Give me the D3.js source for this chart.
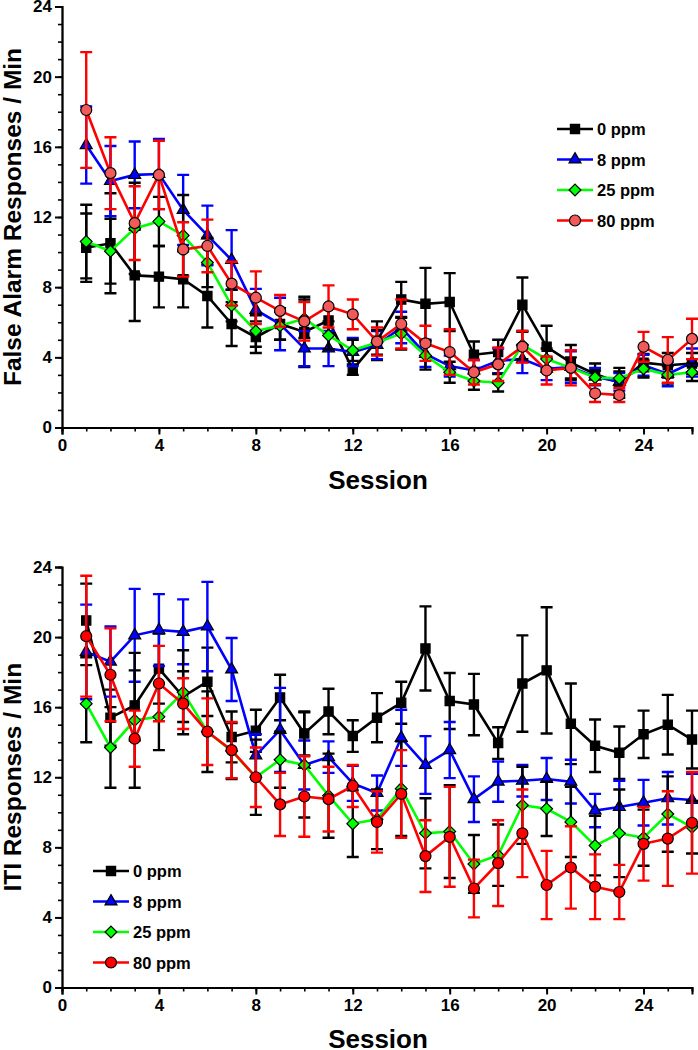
<!DOCTYPE html>
<html>
<head>
<meta charset="utf-8">
<script src="https://cdn.jsdelivr.net/npm/d3@7"></script>
<style>
  body { margin: 0; background: #fff; }
  svg { display: block; font-family: "Liberation Sans", Arial, sans-serif; }
</style>
</head>
<body>
<svg width="698" height="1050"></svg>
<script>
const sessions = d3.range(1, 27);
const groups = ["0 ppm", "8 ppm", "25 ppm", "80 ppm"];
const yTicks = [0, 4, 8, 12, 16, 20, 24];
const xTicks = [0, 4, 8, 12, 16, 20, 24];

// False alarm responses / min (means and SEM)
const fa0 = [10.25,10.5,8.67,8.6,8.45,7.5,5.9,5.15,5.9,5.45,6.1,3.3,4.95,7.3,7.05,7.15,4.15,4.3,7.0,4.6,3.7,3.05,2.55,3.7,3.55,3.65];
const fa0err = [1.95,2.85,2.6,1.75,1.6,1.8,1.25,0.9,0.9,2.0,0.7,0.3,1.1,1.0,2.05,1.65,0.75,0.7,1.55,1.2,1.0,0.6,0.85,0.5,0.7,0.6];
const fa8 = [16.1,14.05,14.4,14.45,12.4,10.95,9.55,6.7,5.9,4.5,4.5,4.3,4.7,5.7,4.2,3.5,3.25,3.8,3.9,3.35,3.45,2.9,2.6,3.55,3.05,3.7];
const fa8err = [2.2,2.0,1.9,2.0,2.0,1.7,1.7,1.2,1.5,1.0,1.0,0.8,0.8,0.9,0.75,0.6,0.6,0.7,0.8,0.65,0.9,0.5,0.5,0.6,0.7,0.8];
const fa25 = [10.6,10.05,11.35,11.75,10.95,9.4,6.95,5.5,5.8,6.2,5.25,4.4,4.85,5.35,4.1,3.15,2.65,2.55,4.7,3.9,3.4,2.85,2.8,3.35,3.0,3.15];
const fa25err = [2.1,1.85,2.6,1.4,2.3,1.4,0.9,0.9,0.8,1.1,0.8,0.6,0.7,0.9,0.8,0.6,0.5,0.5,0.8,0.6,0.6,0.4,0.4,0.5,0.5,0.5];
const fa80 = [18.1,14.5,11.65,14.4,10.15,10.35,8.2,7.4,6.65,6.05,6.9,6.45,4.9,5.9,4.8,4.3,3.15,3.6,4.6,3.25,3.4,1.95,1.85,4.6,3.85,5.05];
const fa80err = [3.3,2.05,2.1,1.95,1.55,1.5,1.25,1.5,0.9,1.1,1.2,0.85,0.8,1.4,1.0,1.3,0.7,0.95,0.9,0.8,1.0,0.5,0.4,0.85,1.3,1.15];

// ITI responses / min
const iti0 = [20.95,15.4,16.1,18.2,16.6,17.45,14.3,14.65,16.55,14.5,15.75,14.35,15.4,16.25,19.35,16.35,16.15,13.95,17.35,18.1,15.05,13.8,13.4,14.45,15.0,14.15];
const iti0err = [2.1,1.6,2.0,2.0,1.45,1.95,1.45,1.2,1.3,1.25,1.3,0.9,1.4,1.2,2.4,1.6,1.75,0.9,2.75,3.6,2.3,1.5,1.5,1.35,1.7,1.65];
const iti8 = [19.15,18.6,20.1,20.4,20.3,20.6,18.15,13.25,14.7,12.7,13.15,11.65,11.1,14.25,12.7,13.55,10.75,11.75,11.8,11.9,11.75,10.1,10.3,10.55,10.8,10.7];
const iti8err = [2.7,2.0,2.65,2.05,1.85,2.55,1.8,1.2,2.4,1.4,0.9,1.0,1.0,1.6,1.65,1.6,1.3,1.15,0.9,1.2,1.25,0.95,1.5,1.3,1.5,1.5];
const iti25 = [16.2,13.7,15.25,15.45,16.85,14.6,13.5,12.0,13.0,12.7,10.95,9.35,9.6,11.35,8.8,8.9,7.05,7.55,10.4,10.2,9.45,8.1,8.8,8.55,9.9,9.15];
const iti25err = [2.2,2.3,3.85,1.9,2.4,2.3,1.6,2.15,1.6,3.0,2.4,1.9,1.7,2.7,2.0,2.65,1.65,1.75,2.2,1.55,2.0,1.7,2.5,1.6,2.15,1.5];
const iti80 = [20.05,17.85,14.2,17.35,16.2,14.6,13.55,12.0,10.45,10.9,10.75,11.5,9.45,11.05,7.5,8.6,5.65,7.1,8.8,5.85,6.85,5.75,5.45,8.2,8.5,9.4];
const iti80err = [3.45,2.65,1.6,2.15,1.45,1.9,1.6,1.7,1.8,2.3,1.85,1.2,1.75,2.5,2.05,2.85,1.65,2.45,2.5,1.95,2.35,1.85,1.55,2.1,2.7,2.9];

const svg = d3.select("svg");

const diamond = {
  draw(ctx, size) {
    const r = Math.sqrt(size / 2);
    ctx.moveTo(0, -r); ctx.lineTo(r, 0); ctx.lineTo(0, r); ctx.lineTo(-r, 0); ctx.closePath();
  }
};

const x = d3.scaleLinear().domain([0, 26]).range([62, 692]);

function drawPanel(cfg) {
  const y = d3.scaleLinear().domain([0, 24]).range([cfg.y0, cfg.y24]);
  const g = svg.append("g");

  const series = [
    { name: groups[0], vals: cfg.data[0], err: cfg.errs[0], line: "#000", fill: "#000", bar: "#000", sym: d3.symbolSquare, size: 85 },
    { name: groups[1], vals: cfg.data[1], err: cfg.errs[1], line: "#0000ff", fill: "#0000ff", bar: "#0000ff", sym: d3.symbolTriangle, size: 62 },
    { name: groups[2], vals: cfg.data[2], err: cfg.errs[2], line: "#00ff00", fill: "#00ff00", bar: "#000", sym: diamond, size: 70 },
    { name: groups[3], vals: cfg.data[3], err: cfg.errs[3], line: "#ff0000", fill: cfg.redFill, bar: "#ff0000", sym: d3.symbolCircle, size: 95 }
  ];

  // minor ticks
  g.append("g")
    .attr("transform", `translate(0,${cfg.y0})`)
    .call(d3.axisBottom(x).tickValues(d3.range(0, 27)).tickSize(4).tickFormat(""))
    .call(a => a.selectAll("line,path").attr("stroke", "#000").attr("stroke-width", 1.6));
  g.append("g")
    .attr("transform", `translate(62,0)`)
    .call(d3.axisLeft(y).tickValues(d3.range(0, 25)).tickSize(4).tickFormat(""))
    .call(a => a.selectAll("line,path").attr("stroke", "#000").attr("stroke-width", 1.6));

  // major ticks
  g.append("g")
    .attr("transform", `translate(0,${cfg.y0})`)
    .call(d3.axisBottom(x).tickValues(xTicks).tickSize(7).tickPadding(4))
    .call(a => a.select(".domain").attr("stroke-width", 2))
    .call(a => a.selectAll("line").attr("stroke-width", 2))
    .call(a => a.selectAll("text").attr("font-size", 17).attr("font-weight", "bold").attr("fill", "#000")
      .attr("font-family", "Liberation Sans, Arial, sans-serif"));
  g.append("g")
    .attr("transform", `translate(62,0)`)
    .call(d3.axisLeft(y).tickValues(yTicks).tickSize(7).tickPadding(3))
    .call(a => a.select(".domain").attr("stroke-width", 2))
    .call(a => a.selectAll("line").attr("stroke-width", 2))
    .call(a => a.selectAll("text").attr("font-size", 17).attr("font-weight", "bold").attr("fill", "#000")
      .attr("font-family", "Liberation Sans, Arial, sans-serif"));

  // axis titles
  g.append("text")
    .attr("transform", `translate(21,${(cfg.y0 + cfg.y24) / 2}) rotate(-90)`)
    .attr("text-anchor", "middle")
    .attr("font-size", 24.5)
    .attr("font-weight", "bold")
    .text(cfg.yLabel);
  g.append("text")
    .attr("x", 378)
    .attr("y", cfg.xLabelY)
    .attr("text-anchor", "middle")
    .attr("font-size", 26)
    .attr("font-weight", "bold")
    .text("Session");

  const line = d3.line().x((d, i) => x(sessions[i])).y(d => y(d));

  series.forEach(s => {
    const sg = g.append("g");
    const cap = 6;
    sessions.forEach((ses, i) => {
      const cx = x(ses), hi = y(s.vals[i] + s.err[i]), lo = y(s.vals[i] - s.err[i]);
      sg.append("path")
        .attr("d", `M${cx},${hi}V${lo}M${cx - cap},${hi}H${cx + cap}M${cx - cap},${lo}H${cx + cap}`)
        .attr("stroke", s.bar)
        .attr("stroke-width", 2.4)
        .attr("fill", "none");
    });
    sg.append("path")
      .datum(s.vals)
      .attr("d", line)
      .attr("fill", "none")
      .attr("stroke", s.line)
      .attr("stroke-width", 2.6);
    sg.selectAll(".mk")
      .data(s.vals)
      .enter().append("path")
      .attr("transform", (d, i) => `translate(${x(sessions[i])},${y(d)})`)
      .attr("d", d3.symbol().type(s.sym).size(s.size))
      .attr("fill", s.fill)
      .attr("stroke", "#000")
      .attr("stroke-width", 1.2);
  });

  // legend
  const lg = g.append("g");
  series.forEach((s, i) => {
    const ly = cfg.legend.y + i * 30.5;
    lg.append("line")
      .attr("x1", cfg.legend.x).attr("x2", cfg.legend.x + 36)
      .attr("y1", ly).attr("y2", ly)
      .attr("stroke", s.line).attr("stroke-width", 2.6);
    lg.append("path")
      .attr("transform", `translate(${cfg.legend.x + 18},${ly})`)
      .attr("d", d3.symbol().type(s.sym).size(s.size))
      .attr("fill", s.fill)
      .attr("stroke", "#000")
      .attr("stroke-width", 1.2);
    lg.append("text")
      .attr("x", cfg.legend.x + 40)
      .attr("y", ly + 6)
      .attr("font-size", 16.5)
      .attr("font-weight", "bold")
      .text(s.name);
  });
}

drawPanel({
  y0: 427.5, y24: 6.5,
  data: [fa0, fa8, fa25, fa80],
  errs: [fa0err, fa8err, fa25err, fa80err],
  redFill: "#f25a5a",
  yLabel: "False Alarm Responses / Min",
  xLabelY: 489,
  legend: { x: 557, y: 129 }
});

drawPanel({
  y0: 987.5, y24: 567,
  data: [iti0, iti8, iti25, iti80],
  errs: [iti0err, iti8err, iti25err, iti80err],
  redFill: "#ff0000",
  yLabel: "ITI Responses / Min",
  xLabelY: 1048,
  legend: { x: 93, y: 871 }
});
</script>
</body>
</html>
